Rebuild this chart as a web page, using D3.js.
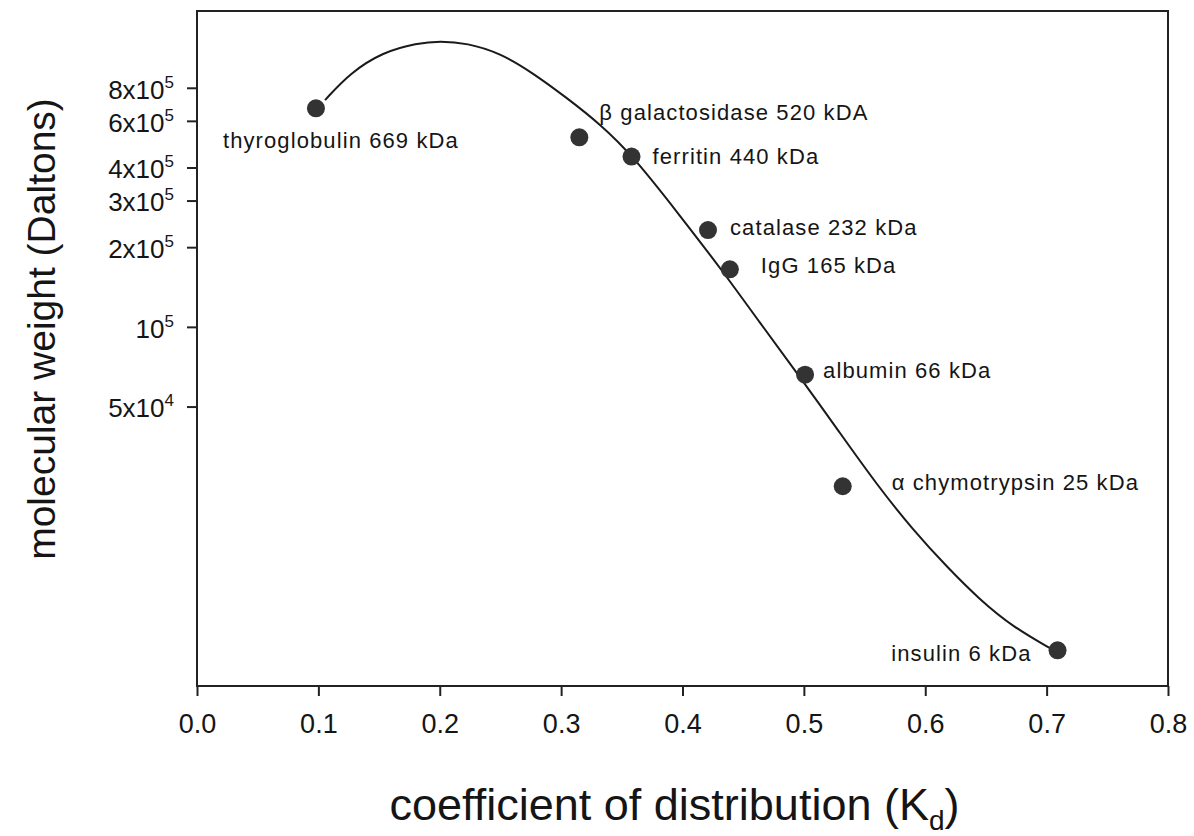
<!DOCTYPE html>
<html>
<head>
<meta charset="utf-8">
<script src="https://cdn.jsdelivr.net/npm/d3@7"></script>
<style>
  body { margin: 0; background: #fff; }
  text { font-family: "Liberation Sans", Arial, sans-serif; fill: #151515; }
</style>
</head>
<body>
<svg id="chart"></svg>
<script>
// protein standards
var names = ["thyroglobulin 669 kDa", "\u03b2 galactosidase 520 kDA", "ferritin 440 kDa",
  "catalase 232 kDa", "IgG 165 kDa", "albumin 66 kDa", "\u03b1 chymotrypsin 25 kDa", "insulin 6 kDa"];
var kd = [0.098, 0.315, 0.358, 0.421, 0.439, 0.501, 0.532, 0.709];
var mw = [669000, 520000, 440000, 232000, 165000, 66000, 25000, 6000];

// fitted curve
var curveKd = [0.1055, 0.1261, 0.1532, 0.1813, 0.2002, 0.2225, 0.2496, 0.2768, 0.3048, 0.3320, 0.3592,
  0.3963, 0.4342, 0.4639, 0.4950, 0.5298, 0.5602, 0.5899, 0.6179, 0.6451, 0.6723, 0.7053];
var curveMw = [719000, 910000, 1092000, 1180000, 1202000, 1180000, 1083000, 910000, 732000, 584000, 442000,
  269000, 160000, 103400, 66400, 39700, 25300, 17100, 12390, 9300, 7350, 6020];

var xTicks = [0, 0.1, 0.2, 0.3, 0.4, 0.5, 0.6, 0.7, 0.8];
var yTicks = [50000, 100000, 200000, 300000, 400000, 600000, 800000];
var yTickLabels = [["5x10", "4"], ["10", "5"], ["2x10", "5"], ["3x10", "5"], ["4x10", "5"], ["6x10", "5"], ["8x10", "5"]];

var W = 1194, H = 836;
var pLeft = 197, pRight = 1168, pTop = 11, pBottom = 686;

var svg = d3.select("#chart").attr("width", W).attr("height", H);

var x = d3.scaleLinear().domain([0, 0.8]).range([pLeft, pRight]);
var y = d3.scaleLog().domain([4400, 1560000]).range([pBottom, pTop]);

// x axis
var xAxis = d3.axisBottom(x)
  .tickValues(xTicks)
  .tickSize(10)
  .tickPadding(18)
  .tickFormat(d3.format(".1f"));
var gx = svg.append("g")
  .attr("transform", "translate(0," + pBottom + ")")
  .call(xAxis);
gx.select(".domain").remove();
gx.selectAll(".tick line").attr("stroke", "#222").attr("stroke-width", 2);
gx.selectAll(".tick text").attr("font-size", 27).attr("fill", "#151515")
  .style("font-family", '"Liberation Sans", Arial, sans-serif');

// y axis, log scale with superscript labels
var yAxis = d3.axisLeft(y)
  .tickValues(yTicks)
  .tickSize(10)
  .tickPadding(13)
  .tickFormat("");
var gy = svg.append("g")
  .attr("transform", "translate(" + pLeft + ",0)")
  .call(yAxis);
gy.select(".domain").remove();
gy.selectAll(".tick line").attr("stroke", "#222").attr("stroke-width", 2);
gy.selectAll(".tick text").each(function(d, i) {
  var t = d3.select(this)
    .attr("font-size", 26)
    .attr("fill", "#151515")
    .attr("dy", "0.4em")
    .style("font-family", '"Liberation Sans", Arial, sans-serif');
  t.append("tspan").text(yTickLabels[i][0]);
  t.append("tspan").attr("font-size", 17).attr("dy", -11).text(yTickLabels[i][1]);
});

// frame
svg.append("rect")
  .attr("x", pLeft).attr("y", pTop)
  .attr("width", pRight - pLeft).attr("height", pBottom - pTop)
  .attr("fill", "none")
  .attr("stroke", "#222")
  .attr("stroke-width", 2);

// fitted curve
var line = d3.line()
  .x(function(d, i) { return x(curveKd[i]); })
  .y(function(d, i) { return y(curveMw[i]); })
  .curve(d3.curveBasis);
svg.append("path")
  .datum(curveKd)
  .attr("d", line)
  .attr("fill", "none")
  .attr("stroke", "#1a1a1a")
  .attr("stroke-width", 2);

// points
svg.append("g").selectAll("circle")
    .data(kd)
  .enter().append("circle")
    .attr("cx", function(d) { return x(d); })
    .attr("cy", function(d, i) { return y(mw[i]); })
    .attr("r", 9)
    .attr("fill", "#333");

// labels next to points
var labelDx = [-93, 20, 21, 22, 31, 18, 49, -26];
var labelDy = [40, -17, 7, 5, 4, 3, 4, 11];
svg.append("g").selectAll("text")
    .data(names)
  .enter().append("text")
    .attr("x", function(d, i) { return x(kd[i]) + labelDx[i]; })
    .attr("y", function(d, i) { return y(mw[i]) + labelDy[i]; })
    .attr("text-anchor", function(d, i) { return i == 7 ? "end" : "start"; })
    .attr("font-size", 22)
    .attr("letter-spacing", 1.1)
    .text(function(d) { return d; });

// axis titles
var xt = svg.append("text")
  .attr("x", (pLeft + pRight) / 2 - 8)
  .attr("y", 820)
  .attr("text-anchor", "middle")
  .attr("font-size", 45);
xt.append("tspan").text("coefficient of distribution (K");
xt.append("tspan").attr("font-size", 28).attr("dy", 10).text("d");
xt.append("tspan").attr("dy", -10).text(")");

svg.append("text")
  .attr("transform", "translate(55,329) rotate(-90)")
  .attr("text-anchor", "middle")
  .attr("font-size", 39)
  .text("molecular weight (Daltons)");
</script>
</body>
</html>
